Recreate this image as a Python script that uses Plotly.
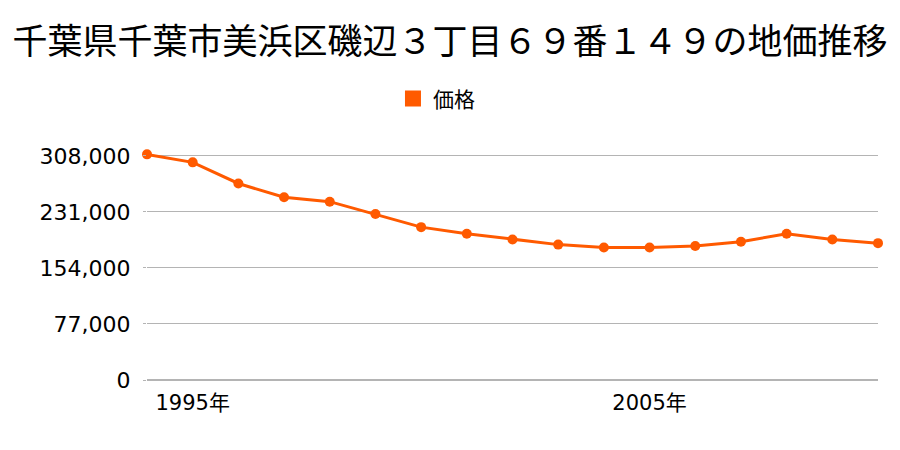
import plotly.graph_objects as go

# land price history, one value per year
years = list(range(1994, 2011))
prices = [310000, 299000, 270000, 251000, 245000, 228000, 210000, 201000,
          193000, 186000, 182000, 182000, 184000, 190000, 201000, 193000, 188000]

y_ticks = [0, 77000, 154000, 231000, 308000]
y_tick_text = ["0", "77,000", "154,000", "231,000", "308,000"]
x_ticks = [1995, 2005]
x_tick_text = ["1995年", "2005年"]

cjk = "Noto Sans CJK JP, sans-serif"
num = "DejaVu Sans, Noto Sans CJK JP, sans-serif"
orange = "#ff5a00"
grid = "#b4b4b4"

fig = go.Figure()
fig.add_trace(go.Scatter(
    x=years, y=prices, name="価格", mode="lines+markers",
    line=dict(color=orange, width=3),
    marker=dict(color=orange, size=10),
    cliponaxis=False, showlegend=False,
))
# legend entry drawn as a square swatch
fig.add_trace(go.Scatter(
    x=[None], y=[None], name="価格", mode="markers",
    marker=dict(color=orange, size=20, symbol="square"),
))

fig.update_layout(
    width=900, height=450,
    paper_bgcolor="white", plot_bgcolor="white",
    margin=dict(l=139, r=30, t=142, b=78),
    font=dict(family=cjk, color="#000"),
    title=dict(text="千葉県千葉市美浜区磯辺３丁目６９番１４９の地価推移",
               x=0.491, xanchor="center", y=0.924, yanchor="middle",
               font=dict(size=35)),
    showlegend=True,
    legend=dict(orientation="h", x=0.396, xanchor="center", y=1.222, yanchor="middle",
                font=dict(size=21), itemwidth=30),
    xaxis=dict(range=[1994, 2010], tickvals=x_ticks, ticktext=x_tick_text,
               showgrid=False, zeroline=False, showline=False,
               tickfont=dict(size=21, family=num), ticks="", ticklabelstandoff=8),
    yaxis=dict(range=[0, 316000], tickvals=y_ticks, ticktext=y_tick_text,
               showgrid=True, gridcolor=grid, gridwidth=1,
               zeroline=True, zerolinecolor=grid,
               tickfont=dict(size=22, family=num),
               ticks="outside", ticklen=3, tickcolor=grid, ticklabelstandoff=8),
)

fig.write_html("out.html")
